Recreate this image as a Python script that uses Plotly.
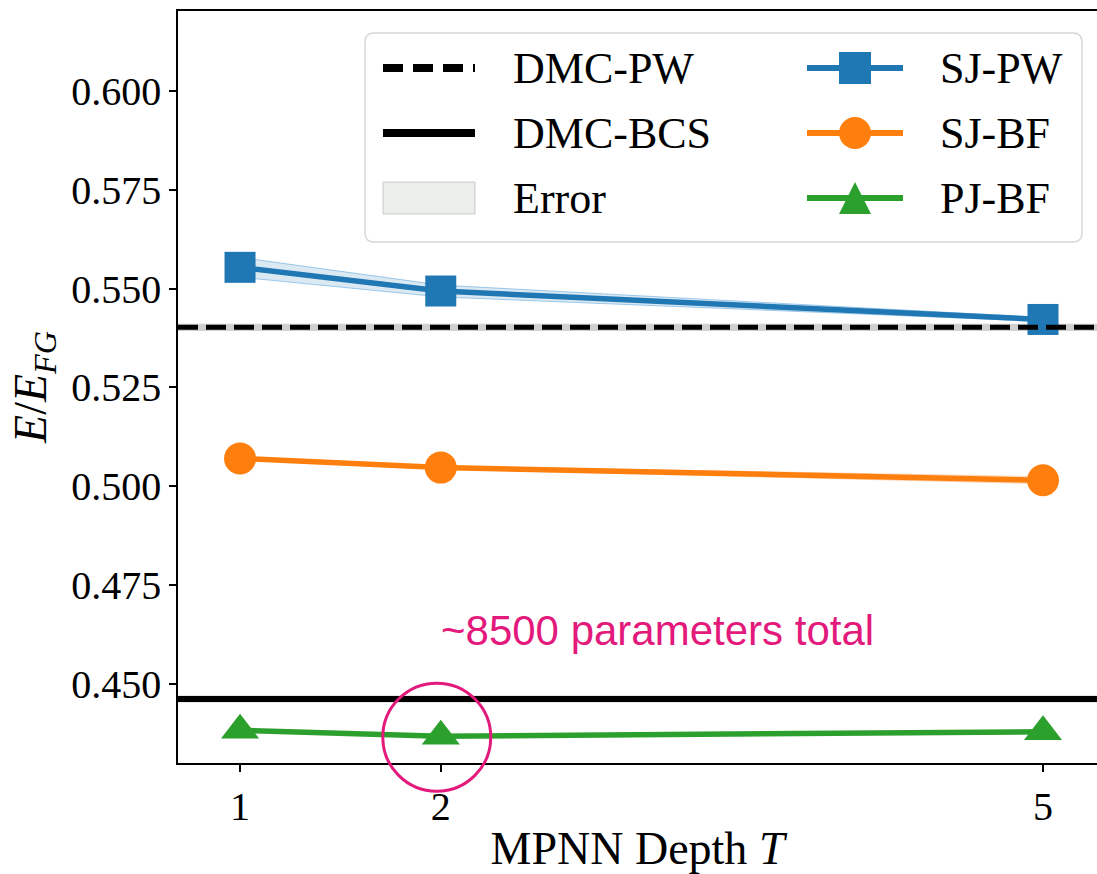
import plotly.graph_objects as go

# ---------------- data ----------------
depth = [1, 2, 5]
sj_pw = [0.5554, 0.5494, 0.5422]
sj_pw_err = [0.0025, 0.0015, 0.0005]
sj_bf = [0.5070, 0.5047, 0.5015]
sj_bf_err = [0.0004, 0.0004, 0.0009]
pj_bf = [0.4382, 0.4367, 0.4378]
pj_bf_err = [0.0002, 0.0002, 0.0002]
dmc_pw = 0.5402
dmc_bcs = 0.4461
dmc_err = 0.0009
y_ticks = [0.450, 0.475, 0.500, 0.525, 0.550, 0.575, 0.600]
x_ticks = [1, 2, 5]
note_text = "~8500 parameters total"
highlight_depth = 2

BLUE = "#1f77b4"
ORANGE = "#ff7f0e"
GREEN = "#2ca02c"
PINK = "#e3197c"
SERIF = "Liberation Serif"

W, H = 1097, 874
ML, MR, MT, MB = 178, 0, 11, 111
PW, PH = W - ML - MR, H - MT - MB
XR = [0.691, 5.269]
YR = [0.4299, 0.6203]


def px_x(px):
    """page pixel x -> paper coordinate"""
    return (px - ML) / PW


def px_y(py):
    """page pixel y -> paper coordinate"""
    return (H - MB - py) / PH


fig = go.Figure()


def band(x, y, e, fill, edge):
    up = [a + b for a, b in zip(y, e)]
    lo = [a - b for a, b in zip(y, e)]
    fig.add_trace(go.Scatter(x=list(x) + list(x)[::-1], y=up + lo[::-1],
                             fill="toself", fillcolor=fill, mode="lines",
                             line=dict(width=1, color=edge), hoverinfo="skip", showlegend=False))


# DMC reference lines with error bands
for val in (dmc_pw, dmc_bcs):
    fig.add_shape(type="rect", xref="x domain", yref="y", x0=0, x1=1,
                  y0=val - dmc_err, y1=val + dmc_err,
                  fillcolor="rgba(150,150,150,0.45)", line=dict(width=0), layer="below")
fig.add_shape(type="line", xref="x domain", yref="y", x0=0, x1=1, y0=dmc_pw, y1=dmc_pw,
              line=dict(color="black", width=5, dash="20px,8px"))
fig.add_shape(type="line", xref="x domain", yref="y", x0=0, x1=1, y0=dmc_bcs, y1=dmc_bcs,
              line=dict(color="black", width=6))

band(depth, sj_pw, sj_pw_err, "rgba(31,119,180,0.16)", "rgba(110,175,225,0.65)")
band(depth, sj_bf, sj_bf_err, "rgba(255,127,14,0.2)", "rgba(255,190,140,0.55)")
band(depth, pj_bf, pj_bf_err, "rgba(44,160,44,0.2)", "rgba(150,210,150,0.5)")

fig.add_trace(go.Scatter(x=depth, y=sj_pw, mode="lines+markers", name="SJ-PW",
                         line=dict(color=BLUE, width=5.5),
                         marker=dict(symbol="square", size=31, color=BLUE), showlegend=False))
fig.add_trace(go.Scatter(x=depth, y=sj_bf, mode="lines+markers", name="SJ-BF",
                         line=dict(color=ORANGE, width=5.5),
                         marker=dict(symbol="circle", size=32, color=ORANGE), showlegend=False))
fig.add_trace(go.Scatter(x=depth, y=pj_bf, mode="lines+markers", name="PJ-BF",
                         line=dict(color=GREEN, width=5.5),
                         marker=dict(symbol="triangle-up", size=33, color=GREEN), showlegend=False))

# ---------------- highlight circle + note ----------------
hx = (highlight_depth - XR[0]) / (XR[1] - XR[0]) - 4 / PW
hy = (pj_bf[depth.index(highlight_depth)] - YR[0]) / (YR[1] - YR[0]) - 1 / PH
r = 54
fig.add_shape(type="circle", xref="paper", yref="paper",
              x0=hx - r / PW, x1=hx + r / PW, y0=hy - r / PH, y1=hy + r / PH,
              line=dict(color=PINK, width=3))
fig.add_annotation(text=note_text, xref="paper", yref="paper", x=px_x(657.5), y=px_y(630),
                   showarrow=False, xanchor="center", yanchor="middle",
                   font=dict(family="Liberation Sans", size=42, color=PINK))

# ---------------- manual legend ----------------
def rounded_rect(x0, y0, x1, y1, rad):
    rx, ry = rad / PW, rad / PH
    X0, X1 = px_x(x0), px_x(x1)
    Y0, Y1 = px_y(y1), px_y(y0)
    return (f"M {X0+rx},{Y0} L {X1-rx},{Y0} Q {X1},{Y0} {X1},{Y0+ry} "
            f"L {X1},{Y1-ry} Q {X1},{Y1} {X1-rx},{Y1} L {X0+rx},{Y1} "
            f"Q {X0},{Y1} {X0},{Y1-ry} L {X0},{Y0+ry} Q {X0},{Y0} {X0+rx},{Y0} Z")


fig.add_shape(type="path", xref="paper", yref="paper", path=rounded_rect(365, 33, 1082, 242, 9),
              fillcolor="rgba(255,255,255,0.85)", line=dict(color="#d6d8d6", width=1.5))

rows = [68, 133, 198]
lx0, lx1 = 383, 475
rx0, rx1 = 807, 903
mcx = 855
fig.add_shape(type="line", xref="paper", yref="paper", x0=px_x(lx0), x1=px_x(lx1),
              y0=px_y(rows[0]), y1=px_y(rows[0]), line=dict(color="black", width=8, dash="20px,10px"))
fig.add_shape(type="line", xref="paper", yref="paper", x0=px_x(lx0), x1=px_x(lx1),
              y0=px_y(rows[1]), y1=px_y(rows[1]), line=dict(color="black", width=8))
fig.add_shape(type="rect", xref="paper", yref="paper", x0=px_x(lx0), x1=px_x(lx1),
              y0=px_y(rows[2] + 16), y1=px_y(rows[2] - 16),
              fillcolor="#eceeec", line=dict(color="#c8cac8", width=1))
for yy, col in zip(rows, (BLUE, ORANGE, GREEN)):
    fig.add_shape(type="line", xref="paper", yref="paper", x0=px_x(rx0), x1=px_x(rx1),
                  y0=px_y(yy), y1=px_y(yy), line=dict(color=col, width=6))
m = 16
fig.add_shape(type="rect", xref="paper", yref="paper", x0=px_x(mcx - m), x1=px_x(mcx + m),
              y0=px_y(rows[0] + m), y1=px_y(rows[0] - m), fillcolor=BLUE, line=dict(width=0))
fig.add_shape(type="circle", xref="paper", yref="paper", x0=px_x(mcx - m), x1=px_x(mcx + m),
              y0=px_y(rows[1] + m), y1=px_y(rows[1] - m), fillcolor=ORANGE, line=dict(width=0))
fig.add_shape(type="path", xref="paper", yref="paper",
              path=(f"M {px_x(mcx)},{px_y(rows[2]-m)} L {px_x(mcx+m)},{px_y(rows[2]+m)} "
                    f"L {px_x(mcx-m)},{px_y(rows[2]+m)} Z"),
              fillcolor=GREEN, line=dict(width=0))

labels_left = ["DMC-PW", "DMC-BCS", "Error"]
labels_right = ["SJ-PW", "SJ-BF", "PJ-BF"]
for yy, t in zip(rows, labels_left):
    fig.add_annotation(text=t, xref="paper", yref="paper", x=px_x(511), y=px_y(yy),
                       xanchor="left", yanchor="middle", showarrow=False,
                       font=dict(family=SERIF, size=44, color="black"))
for yy, t in zip(rows, labels_right):
    fig.add_annotation(text=t, xref="paper", yref="paper", x=px_x(938), y=px_y(yy),
                       xanchor="left", yanchor="middle", showarrow=False,
                       font=dict(family=SERIF, size=44, color="black"))

# ---------------- layout ----------------
fig.update_layout(
    width=W, height=H,
    margin=dict(l=ML, r=MR, t=MT, b=MB),
    paper_bgcolor="white", plot_bgcolor="white",
    font=dict(family=SERIF, color="black"),
    xaxis=dict(range=XR, tickvals=x_ticks, ticktext=[str(v) for v in x_ticks],
               showgrid=False, zeroline=False, showline=True, linecolor="black", linewidth=1.5,
               mirror=True, ticks="outside", ticklen=7, tickwidth=1.5, tickcolor="black",
               tickfont=dict(family=SERIF, size=40), automargin=False,
               title=dict(text="MPNN Depth <i>T</i>", font=dict(family=SERIF, size=46), standoff=5)),
    yaxis=dict(range=YR, tickvals=y_ticks, ticktext=[f"{v:.3f}" for v in y_ticks],
               showgrid=False, zeroline=False, showline=True, linecolor="black", linewidth=1.5,
               ticks="outside", ticklen=7, tickwidth=1.5, tickcolor="black",
               tickfont=dict(family=SERIF, size=40), automargin=False,
               title=dict(text="<i>E</i>/<i>E</i><sub><i>FG</i></sub>",
                          font=dict(family=SERIF, size=46), standoff=10)),
)

# remove the browser's default 8px body margin so the figure fills the window exactly
fig.write_html("out.html", config={"displayModeBar": False},
               post_script="document.body.style.margin='0';document.body.style.overflow='hidden';")
